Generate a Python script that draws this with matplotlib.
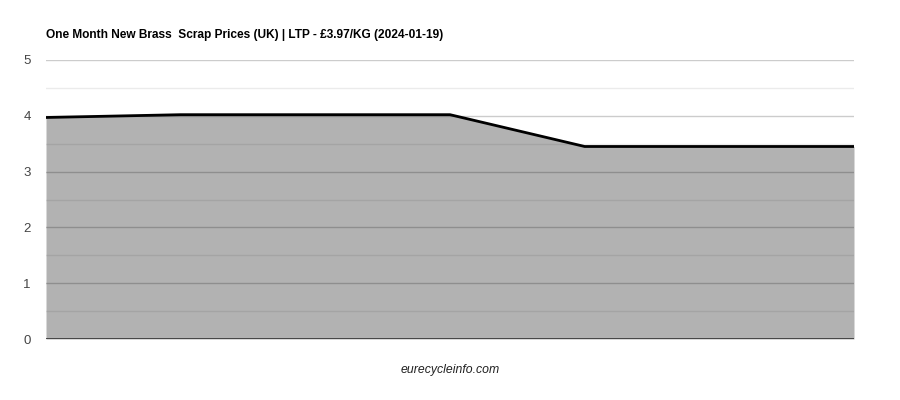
import matplotlib
matplotlib.use("Agg")
import matplotlib.pyplot as plt

plt.rcParams['font.family'] = ['Liberation Sans', 'DejaVu Sans']

# one month of prices, GBP/kg
points = [0, 1, 2, 3, 4, 5, 6]
prices = [3.97, 4.02, 4.02, 4.02, 3.45, 3.45, 3.45]
y_ticks = [0, 1, 2, 3, 4, 5]
title = "One Month New Brass  Scrap Prices (UK) | LTP - \u00a33.97/KG (2024-01-19)"
footer = "eurecycleinfo.com"

fig = plt.figure(figsize=(9, 4), dpi=100)
ax = fig.add_axes([46 / 900, 61 / 400, 808 / 900, 279 / 400])

# gridlines first, the translucent area goes over them
for t in y_ticks[1:]:
    ax.axhline(t, color="#cccccc", lw=1, zorder=1)
for t in y_ticks[:-1]:
    ax.axhline(t + 0.5, color="#ebebeb", lw=1, zorder=1)

ax.fill_between(points, prices, 0, color="black", alpha=0.3, lw=0, zorder=2)
ax.plot(points, prices, color="black", lw=2, zorder=3, solid_joinstyle="round")
ax.axhline(0, color="#333333", lw=1.2, zorder=4)

ax.set_xlim(points[0], points[-1])
ax.set_ylim(0, 5)
ax.set_yticks(y_ticks)
ax.set_xticks([])
ax.tick_params(axis="y", length=0, pad=11, labelsize=9.5, labelcolor="#444444")
for s in ax.spines.values():
    s.set_visible(False)

fig.text(46 / 900, 1 - 35 / 400, title, fontsize=8.6, fontweight="bold",
         va="center", ha="left", color="black")
fig.text(450 / 900, 1 - 370 / 400, footer, fontsize=8.8, style="italic",
         va="center", ha="center", color="#222222")

fig.savefig("out.png", dpi=100)
